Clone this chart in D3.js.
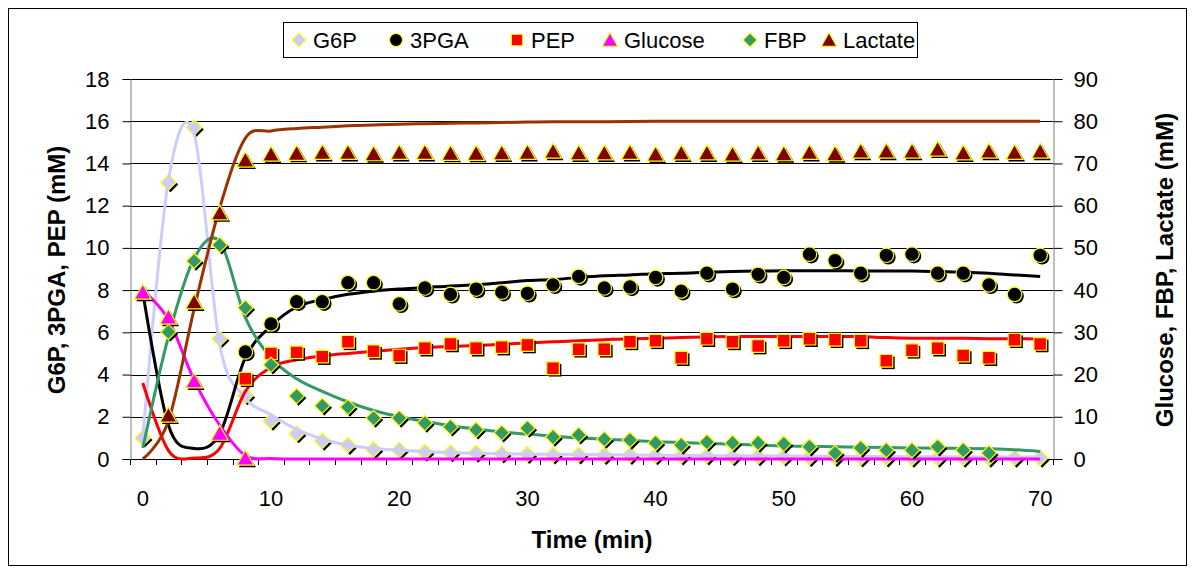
<!DOCTYPE html>
<html>
<head>
<meta charset="utf-8">
<script src="https://cdn.jsdelivr.net/npm/d3@7"></script>
<style>
  body { margin: 0; background: #fff; }
  svg { font-family: "Liberation Sans", Arial, sans-serif; }
</style>
</head>
<body>
<div id="chart"></div>
<script>
/*
 * Data.
 * Sampling times (min), one category each.
 */
var times = [0, 2, 4, 6, 8, 10, 12, 14, 16, 18, 20, 22, 24, 26, 28, 30, 32, 34,
             36, 38, 40, 42, 44, 46, 48, 50, 52, 54, 56, 58, 60, 62, 64, 66, 68, 70]
  , timeLabels = [0, 10, 20, 30, 40, 50, 60, 70]
  , leftTicks = [0, 2, 4, 6, 8, 10, 12, 14, 16, 18]
  , rightTicks = [0, 10, 20, 30, 40, 50, 60, 70, 80, 90];

// measured points (left axis)
var g6p = [1.0, 13.1, 15.7, 5.7, 3.0, 1.8, 1.2, 0.85, 0.65, 0.45, 0.43, 0.33, 0.3, 0.28, 0.24, 0.22,
           0.2, 0.2, 0.18, 0.18, 0.16, 0.15, 0.15, 0.12, 0.12, 0.1, 0.08, 0.08, 0.06, 0.06, 0.05,
           0.05, 0.05, 0.05, 0.05, 0.05];
var pga3 = [null, null, null, null, 5.07, 6.4, 7.45, 7.45, 8.35, 8.35, 7.35, 8.1, 7.8, 8.05, 7.9,
            7.85, 8.25, 8.65, 8.1, 8.15, 8.6, 7.95, 8.8, 8.05, 8.75, 8.6, 9.7, 9.4, 8.8, 9.65, 9.7,
            8.8, 8.8, 8.25, 7.8, 9.65];
var pep = [null, null, null, null, 3.8, 5.0, 5.05, 4.85, 5.55, 5.1, 4.9, 5.25, 5.45, 5.25, 5.3, 5.4,
           4.3, 5.2, 5.2, 5.55, 5.6, 4.8, 5.7, 5.55, 5.35, 5.6, 5.7, 5.65, 5.6, 4.65, 5.15, 5.25,
           4.9, 4.8, 5.65, 5.45];
// measured points (right axis)
var glucose = [39.5, 33.6, 18.5, 6.1, 0.2, null, null, null, null, null, null, null, null, null,
               null, null, null, null, null, null, null, null, null, null, null, null, null, null,
               null, null, null, null, null, null, null, null];
var fbp = [null, 30.1, 46.9, 50.7, 35.8, 22.3, 14.9, 12.6, 12.3, 9.7, 9.7, 8.5, 7.6, 6.9, 6.2, 7.3,
           5.2, 5.7, 4.7, 4.5, 3.8, 3.3, 4.0, 3.8, 3.8, 3.6, 2.9, 1.4, 2.6, 2.1, 2.1, 2.9, 2.1, 1.4,
           null, null];
var lactate = [null, 10.4, 37.2, 58.3, 70.8, 72.2, 72.4, 72.6, 72.6, 72.3, 72.6, 72.6, 72.4, 72.4,
               72.5, 72.6, 72.9, 72.5, 72.5, 72.6, 72.2, 72.5, 72.5, 72.2, 72.5, 72.3, 72.6, 72.3,
               72.9, 72.9, 72.9, 73.4, 72.5, 72.9, 72.6, 72.9];

// model curves
var g6pFit = [1.0, 13.2, 15.4, 5.4, 2.9, 2.1, 1.4, 0.95, 0.65, 0.5, 0.42, 0.35, 0.3, 0.27, 0.25,
              0.23, 0.22, 0.21, 0.2, 0.19, 0.18, 0.17, 0.16, 0.15, 0.15, 0.14, 0.13, 0.13, 0.12,
              0.12, 0.11, 0.11, 0.1, 0.1, 0.1, 0.1];
var pga3Fit = [7.9, 1.6, 0.5, 1.2, 4.8, 6.3, 7.2, 7.55, 7.8, 7.95, 8.05, 8.12, 8.2, 8.25, 8.35,
               8.45, 8.5, 8.6, 8.68, 8.72, 8.78, 8.8, 8.85, 8.88, 8.9, 8.92, 8.92, 8.92, 8.9, 8.9,
               8.9, 8.88, 8.85, 8.8, 8.72, 8.65];
var pepFit = [3.6, 0.4, 0.05, 0.5, 3.2, 4.35, 4.7, 4.88, 5.0, 5.1, 5.2, 5.28, 5.33, 5.38, 5.43,
              5.5, 5.55, 5.6, 5.65, 5.7, 5.72, 5.75, 5.78, 5.8, 5.8, 5.8, 5.8, 5.8, 5.8, 5.75,
              5.72, 5.72, 5.72, 5.7, 5.7, 5.68];
var glucoseFit = [40, 33, 18.7, 8, 0.8, 0.1, 0, 0, 0, 0, 0, 0, 0, 0, 0, 0, 0, 0, 0, 0, 0, 0, 0, 0,
                  0, 0, 0, 0, 0, 0, 0, 0, 0, 0, 0, 0];
var fbpFit = [2.6, 29, 47.5, 51.5, 33.5, 24, 19, 16, 13.5, 11.5, 10, 8.9, 7.9, 7.1, 6.4, 5.9, 5.4,
              5.0, 4.7, 4.4, 4.1, 3.9, 3.7, 3.5, 3.3, 3.1, 3.0, 2.9, 2.8, 2.7, 2.6, 2.55, 2.5, 2.4,
              2.2, 1.8];
var lactateFit = [0, 9, 35.5, 59.5, 76, 77.7, 78.3, 78.6, 78.9, 79.1, 79.3, 79.4, 79.5, 79.6,
                  79.7, 79.8, 79.85, 79.9, 79.9, 79.95, 80, 80, 80, 80, 80, 80, 80, 80, 80, 80, 80,
                  80, 80, 80, 80, 80];

/*
 * Canvas and scales.
 */
var width = 1193
  , height = 573
  , plotLeft = 130
  , plotRight = 1053
  , plotTop = 79
  , plotBottom = 459;

var svg = d3.select('#chart').append('svg')
  .attr('width', width)
  .attr('height', height);

var x = d3.scaleBand().domain(times).range([plotLeft, plotRight]).padding(0);
var yL = d3.scaleLinear().domain([0, 18]).range([plotBottom, plotTop]);
var yR = d3.scaleLinear().domain([0, 90]).range([plotBottom, plotTop]);

function cx(t) { return x(t) + x.bandwidth() / 2; }

// outer frame
svg.append('rect')
  .attr('x', 8.5).attr('y', 8.5)
  .attr('width', 1178).attr('height', 557)
  .attr('fill', 'none').attr('stroke', '#000').attr('stroke-width', 1);

// gridlines
svg.append('g').selectAll('line')
  .data(leftTicks)
  .enter().append('line')
  .attr('x1', plotLeft).attr('x2', plotRight)
  .attr('y1', function(d) { return Math.round(yL(d)) + 0.5; })
  .attr('y2', function(d) { return Math.round(yL(d)) + 0.5; })
  .attr('stroke', '#000').attr('stroke-width', 1);

/*
 * Axes.
 */
var xAxis = svg.append('g')
  .attr('transform', 'translate(0,' + plotBottom + ')')
  .call(d3.axisBottom(x).tickValues(timeLabels).tickSize(0).tickPadding(31));
xAxis.select('.domain').remove();
xAxis.selectAll('text').attr('font-size', 22).attr('fill', '#000');

// tick marks sit between categories
svg.append('g').selectAll('line')
  .data(times.concat(['end']))
  .enter().append('line')
  .attr('x1', function(d) { return Math.round(d === 'end' ? plotRight : x(d)) + 0.5; })
  .attr('x2', function(d) { return Math.round(d === 'end' ? plotRight : x(d)) + 0.5; })
  .attr('y1', plotBottom).attr('y2', plotBottom + 6)
  .attr('stroke', '#000');

var lAxis = svg.append('g')
  .attr('transform', 'translate(' + (plotLeft + 0.5) + ',0)')
  .call(d3.axisLeft(yL).tickValues(leftTicks).tickSize(8).tickPadding(13));
lAxis.select('.domain').attr('stroke', '#808080');
lAxis.selectAll('.tick line').attr('stroke', '#000');
lAxis.selectAll('text').attr('font-size', 22).attr('fill', '#000');

var rAxis = svg.append('g')
  .attr('transform', 'translate(' + (plotRight + 0.5) + ',0)')
  .call(d3.axisRight(yR).tickValues(rightTicks).tickSize(9).tickPadding(11));
rAxis.select('.domain').attr('stroke', '#808080');
rAxis.selectAll('.tick line').attr('stroke', '#000');
rAxis.selectAll('text').attr('font-size', 22).attr('fill', '#000');

// axis titles
svg.append('text')
  .attr('transform', 'translate(65,270) rotate(-90)')
  .attr('text-anchor', 'middle')
  .attr('font-size', 24).attr('font-weight', 'bold')
  .text('G6P, 3PGA, PEP (mM)');

svg.append('text')
  .attr('transform', 'translate(1173,270) rotate(-90)')
  .attr('text-anchor', 'middle')
  .attr('font-size', 24).attr('font-weight', 'bold')
  .text('Glucose, FBP, Lactate (mM)');

svg.append('text')
  .attr('x', 592).attr('y', 548)
  .attr('text-anchor', 'middle')
  .attr('font-size', 24).attr('font-weight', 'bold')
  .text('Time (min)');

/*
 * Marker shapes, centred on 0,0.
 */
var shapes = {
  diamond: function() { return d3.symbol(d3.symbolSquare, 118)(); },
  circle: function() { return d3.symbol(d3.symbolCircle, 165)(); },
  square: function() { return d3.symbol(d3.symbolSquare, 160)(); },
  triangle: function() { return 'M0,-8L8.5,7L-8.5,7Z'; }
};

var series = [
  { name: 'G6P', values: g6p, fit: g6pFit, axis: yL, shape: 'diamond', fill: '#ccccff', line: '#ccccff' },
  { name: '3PGA', values: pga3, fit: pga3Fit, axis: yL, shape: 'circle', fill: '#000000', line: '#000000' },
  { name: 'PEP', values: pep, fit: pepFit, axis: yL, shape: 'square', fill: '#ff0000', line: '#ff0000' },
  { name: 'Glucose', values: glucose, fit: glucoseFit, axis: yR, shape: 'triangle', fill: '#ff00ff', line: '#ff00ff' },
  { name: 'FBP', values: fbp, fit: fbpFit, axis: yR, shape: 'diamond', fill: '#339966', line: '#339966' },
  { name: 'Lactate', values: lactate, fit: lactateFit, axis: yR, shape: 'triangle', fill: '#800000', line: '#993300' }
];

function rot(s) { return s.shape === 'diamond' ? ' rotate(45)' : ''; }

function drawMarkers(g, s) {
  var pts = times.map(function(t, i) { return { t: t, v: s.values[i] }; })
    .filter(function(d) { return d.v !== null; });

  // drop shadow
  g.selectAll('path.shadow')
    .data(pts)
    .enter().append('path')
    .attr('class', 'shadow')
    .attr('d', shapes[s.shape]())
    .attr('transform', function(d) {
      return 'translate(' + (cx(d.t) + 2) + ',' + (s.axis(d.v) + 2) + ')' + rot(s);
    })
    .attr('fill', '#000');

  g.selectAll('path.mark')
    .data(pts)
    .enter().append('path')
    .attr('class', 'mark')
    .attr('d', shapes[s.shape]())
    .attr('transform', function(d) {
      return 'translate(' + cx(d.t) + ',' + s.axis(d.v) + ')' + rot(s);
    })
    .attr('fill', s.fill)
    .attr('stroke', '#ffff00')
    .attr('stroke-width', 1.2);
}

var plot = svg.append('g');

// G6P points under the curves
drawMarkers(plot.append('g'), series[0]);

// model curves
series.forEach(function(s) {
  var line = d3.line()
    .x(function(d, i) { return cx(times[i]); })
    .y(function(d) { return s.axis(d); })
    .curve(d3.curveCatmullRom.alpha(0));

  plot.append('path')
    .datum(s.fit)
    .attr('d', line)
    .attr('fill', 'none')
    .attr('stroke', s.line)
    .attr('stroke-width', 3);
});

series.slice(1).forEach(function(s) {
  drawMarkers(plot.append('g'), s);
});

/*
 * Legend.
 */
var legend = svg.append('g');
legend.append('rect')
  .attr('x', 283.5).attr('y', 22.5)
  .attr('width', 634).attr('height', 35)
  .attr('fill', '#fff').attr('stroke', '#000');

var legendX = [299, 396, 517, 610, 750, 829];

series.forEach(function(s, i) {
  legend.append('path')
    .attr('d', shapes[s.shape]())
    .attr('transform', 'translate(' + legendX[i] + ',40)' + rot(s) + ' scale(0.9)')
    .attr('fill', s.fill)
    .attr('stroke', '#ffff00')
    .attr('stroke-width', 1.2);

  legend.append('text')
    .attr('x', legendX[i] + 14)
    .attr('y', 48)
    .attr('font-size', 22)
    .text(s.name);
});
</script>
</body>
</html>
